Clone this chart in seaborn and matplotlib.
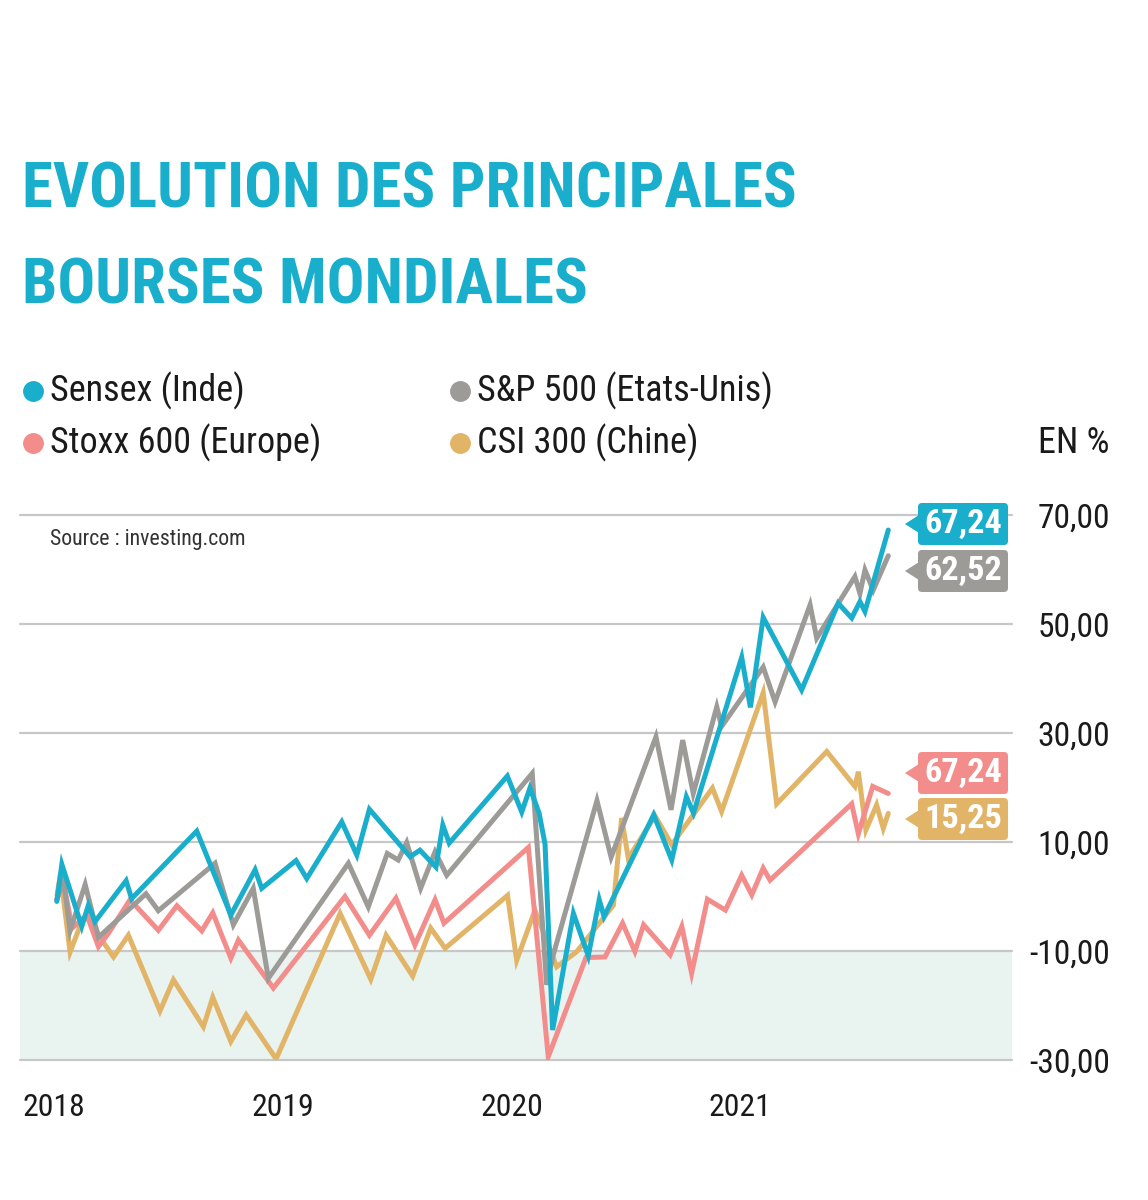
import numpy as np
import pandas as pd
import matplotlib
matplotlib.use("Agg")
import matplotlib.pyplot as plt
import seaborn as sns
from matplotlib import font_manager as fm
from matplotlib.patches import FancyBboxPatch, Polygon
from matplotlib.lines import Line2D
from matplotlib.transforms import IdentityTransform

# ---------------- data ----------------
series_names = ["Sensex (Inde)", "S&P 500 (Etats-Unis)", "Stoxx 600 (Europe)", "CSI 300 (Chine)"]

sensex_t = [2018.012, 2018.034, 2018.121, 2018.150, 2018.179, 2018.315, 2018.339, 2018.624, 2018.773,
            2018.879, 2018.908, 2019.058, 2019.105, 2019.258, 2019.324, 2019.379, 2019.557, 2019.600,
            2019.670, 2019.700, 2019.728, 2019.982, 2020.045, 2020.081, 2020.121, 2020.147, 2020.180,
            2020.271, 2020.336, 2020.384, 2020.405, 2020.622, 2020.701, 2020.765, 2020.796, 2021.007,
            2021.045, 2021.101, 2021.269, 2021.429, 2021.488, 2021.524, 2021.546, 2021.648]
sensex_v = [-0.9, 5.9, -5.5, -1.6, -4.6, 2.9, -0.4, 12.0, -3.4, 4.9, 1.5, 6.6, 3.3, 13.7, 7.6, 16.0,
            7.3, 8.5, 5.4, 13.1, 9.8, 22.1, 15.5, 19.9, 15.3, 9.6, -24.5, -3.1, -10.9, -0.6, -3.7,
            15.0, 6.7, 18.3, 15.3, 43.9, 34.7, 51.2, 37.9, 53.8, 51.1, 54.1, 52.3, 67.24]

sp500_t = [2018.012, 2018.041, 2018.070, 2018.136, 2018.194, 2018.402, 2018.456, 2018.704, 2018.784,
           2018.871, 2018.937, 2019.287, 2019.374, 2019.457, 2019.505, 2019.542, 2019.603, 2019.666,
           2019.717, 2020.091, 2020.154, 2020.183, 2020.374, 2020.436, 2020.632, 2020.698, 2020.749,
           2020.795, 2020.898, 2020.919, 2021.101, 2021.153, 2021.306, 2021.335, 2021.502, 2021.524,
           2021.546, 2021.582, 2021.648]
sp500_v = [-0.6, 3.2, -6.3, 2.2, -7.5, 0.5, -2.6, 6.1, -5.2, 1.5, -15.0, 6.1, -1.9, 7.9, 6.7, 9.9,
           1.5, 8.2, 3.9, 22.6, -16.2, -10.7, 17.6, 7.2, 29.3, 15.9, 28.7, 18.9, 34.8, 31.2, 42.1,
           35.7, 53.5, 47.4, 58.7, 55.6, 59.9, 56.2, 62.52]

stoxx_t = [2018.012, 2018.041, 2018.079, 2018.143, 2018.194, 2018.237, 2018.332, 2018.456, 2018.537,
           2018.646, 2018.694, 2018.773, 2018.806, 2018.959, 2019.272, 2019.379, 2019.495, 2019.578,
           2019.666, 2019.705, 2020.074, 2020.161, 2020.326, 2020.409, 2020.486, 2020.540, 2020.578,
           2020.694, 2020.745, 2020.788, 2020.857, 2020.936, 2021.007, 2021.051, 2021.101, 2021.131,
           2021.488, 2021.517, 2021.580, 2021.648]
stoxx_v = [-0.6, 2.7, -5.8, -3.4, -9.2, -6.8, -0.6, -6.2, -1.7, -6.3, -3.0, -11.3, -8.0, -16.8, 0.0,
           -7.1, -0.3, -8.9, -0.6, -4.9, 9.0, -29.4, -11.2, -11.1, -4.9, -10.1, -5.2, -10.7, -5.5,
           -14.1, -0.5, -2.5, 3.9, 0.3, 5.2, 3.0, 17.0, 11.5, 20.2, 18.9]

csi_t = [2018.013, 2018.028, 2018.070, 2018.121, 2018.150, 2018.209, 2018.260, 2018.325, 2018.463,
         2018.522, 2018.653, 2018.694, 2018.773, 2018.840, 2018.971, 2019.251, 2019.385, 2019.452,
         2019.568, 2019.647, 2019.710, 2019.983, 2020.023, 2020.103, 2020.198, 2020.286, 2020.326,
         2020.446, 2020.482, 2020.511, 2020.628, 2020.701, 2020.879, 2020.919, 2021.101, 2021.160,
         2021.379, 2021.502, 2021.517, 2021.550, 2021.597, 2021.626, 2021.648]
csi_v = [0.3, 4.1, -10.2, -4.6, -3.7, -8.0, -11.1, -7.1, -21.0, -15.3, -23.9, -18.5, -26.6, -21.7,
         -29.8, -3.1, -15.2, -7.1, -14.6, -5.8, -9.5, 0.2, -11.7, -2.5, -12.9, -10.1, -8.0, -1.6,
         14.4, 7.0, 14.8, 9.5, 19.9, 15.6, 37.4, 17.0, 26.6, 20.2, 22.9, 12.2, 16.8, 12.5, 15.25]

end_labels = ["67,24", "62,52", "67,24", "15,25"]   # as printed in the reference
year_ticks = [2018, 2019, 2020, 2021]
year_labels = ["2018", "2019", "2020", "2021"]
value_ticks = [70, 50, 30, 10, -10, -30]

title_lines = ["EVOLUTION DES PRINCIPALES", "BOURSES MONDIALES"]
source_text = "Source : investing.com"
unit_text = "EN %"

colors = {"Sensex (Inde)": "#19aecb", "S&P 500 (Etats-Unis)": "#9c9b98",
          "Stoxx 600 (Europe)": "#f38d8b", "CSI 300 (Chine)": "#e2b468"}

# ---------------- style / fonts ----------------
sns.set_theme(style="white")
names = {f.name for f in fm.fontManager.ttflist}
FONT = next((n for n in ["Roboto Condensed", "Liberation Sans Narrow", "Open Sans Condensed",
                         "Noto Sans Condensed"] if n in names), "DejaVu Sans")
plt.rcParams["font.family"] = [FONT, "DejaVu Sans"]

W, H = 1148, 1200
fig = plt.figure(figsize=(W / 100, H / 100), dpi=100)
fig.patch.set_facecolor("white")


def P(px, py):
    return px / W, 1 - py / H


ax = fig.add_axes([20 / W, 1 - 1060 / H, 992 / W, 545 / H])
ax.set_facecolor("white")
for s in ax.spines.values():
    s.set_visible(False)

ax.axhspan(-30, -10, color="#e9f3f0", zorder=0, lw=0)
for yv in value_ticks:
    ax.axhline(yv, color="#c7c7c7", lw=1.6, zorder=1, clip_on=False)

frames = []
for nm, t, v in [("Sensex (Inde)", sensex_t, sensex_v), ("S&P 500 (Etats-Unis)", sp500_t, sp500_v),
                 ("Stoxx 600 (Europe)", stoxx_t, stoxx_v), ("CSI 300 (Chine)", csi_t, csi_v)]:
    frames.append(pd.DataFrame({"t": t, "v": v, "indice": nm}))
df = pd.concat(frames, ignore_index=True)

hue_order = ["CSI 300 (Chine)", "Stoxx 600 (Europe)", "S&P 500 (Etats-Unis)", "Sensex (Inde)"]
sns.lineplot(data=df, x="t", y="v", hue="indice", hue_order=hue_order, palette=colors,
             estimator=None, sort=False, lw=3.6, legend=False, ax=ax, zorder=3)
for ln in ax.get_lines():
    ln.set_solid_joinstyle("miter")

ax.set_xlim(2017.851, 2022.189)
ax.set_ylim(-30, 70)
ax.set_xlabel("")
ax.set_ylabel("")

ax.set_xticks(year_ticks)
ax.set_xticklabels(year_labels)
ax.yaxis.tick_right()
ax.set_yticks(value_ticks)
ax.set_yticklabels([f"{v:.2f}".replace(".", ",") for v in value_ticks])
ax.tick_params(axis="both", length=0, colors="#1a1a1a")
ax.grid(False)

fig.canvas.draw()
R = fig.canvas.get_renderer()


def fit(t, target_w, max_size=None):
    bb = t.get_window_extent(renderer=R)
    s = t.get_fontsize() * target_w / bb.width
    if max_size is not None:
        s = min(s, max_size)
    t.set_fontsize(s)
    return s


# measure a size that gives "70,00" a width of ~73 px
probe = fig.text(0, 0, "70,00", fontsize=25)
tick_size = fit(probe, 73, 30)
probe.remove()
ax.tick_params(axis="y", labelsize=tick_size, pad=98 * 0.72)
for lab in ax.get_yticklabels():
    lab.set_horizontalalignment("right")
probe = fig.text(0, 0, "2018", fontsize=25)
year_size = fit(probe, 63, 30)
probe.remove()
ax.tick_params(axis="x", labelsize=year_size, pad=24)

# ---------------- title ----------------
t1 = fig.text(*P(22, 190), title_lines[0], color="#19aecb", fontweight="bold", fontsize=45,
              ha="left", va="center")
s1 = fit(t1, 775, 80)
t2 = fig.text(*P(22, 287), title_lines[1], color="#19aecb", fontweight="bold", fontsize=s1,
              ha="left", va="center")

# ---------------- legend ----------------
leg_pos = {"Sensex (Inde)": (33, 391), "S&P 500 (Etats-Unis)": (460, 391),
           "Stoxx 600 (Europe)": (33, 443), "CSI 300 (Chine)": (460, 443)}
leg_texts = []
for nm in series_names:
    x, y = leg_pos[nm]
    fig.add_artist(Line2D([x / W], [1 - y / H], marker="o", ms=14, color=colors[nm], lw=0,
                          transform=fig.transFigure))
    tt = fig.text(*P(x + 17, y), nm, fontsize=26, color="#1a1a1a", ha="left", va="center")
    leg_texts.append(tt)
ls = fit(leg_texts[0], 195, 30)
for tt in leg_texts[1:]:
    tt.set_fontsize(ls)

fig.text(*P(1110, 443), unit_text, fontsize=ls, color="#1a1a1a", ha="right", va="center")

src = fig.text(*P(50, 540), source_text, fontsize=16, color="#333333", ha="left", va="center")
fit(src, 197, 20)

# ---------------- end value tags ----------------
tag_rows = [("Sensex (Inde)", 524), ("S&P 500 (Etats-Unis)", 571),
            ("Stoxx 600 (Europe)", 773), ("CSI 300 (Chine)", 819)]
ident = IdentityTransform()
for (nm, yc), lab in zip(tag_rows, end_labels):
    c = colors[nm]
    yb = H - yc
    box = FancyBboxPatch((918, yb - 21), 90, 42, boxstyle="round,pad=0,rounding_size=4",
                         fc=c, ec="none", transform=ident, zorder=5)
    fig.add_artist(box)
    tri = Polygon([[919, yb + 9], [919, yb - 9], [905, yb]], closed=True, fc=c, ec="none",
                  transform=ident, zorder=5)
    fig.add_artist(tri)
    tt = fig.text(963 / W, yb / H, lab, color="white", fontweight="bold", fontsize=24,
                  ha="center", va="center", zorder=6)
    fit(tt, 78, 30)

fig.savefig("out.png", dpi=100, facecolor="white")
